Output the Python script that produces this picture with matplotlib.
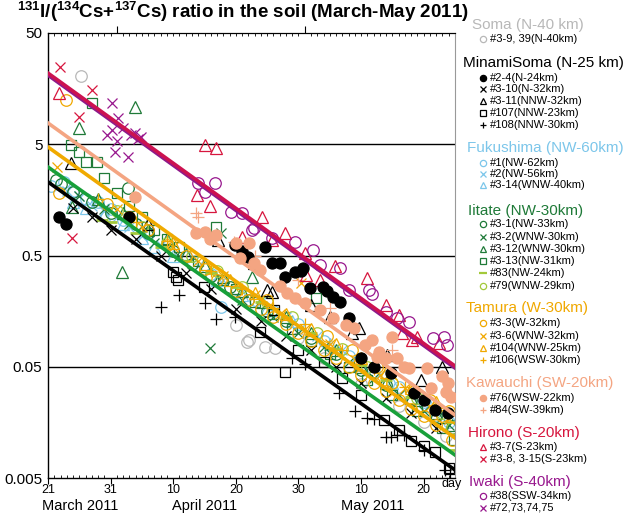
import matplotlib
matplotlib.use("Agg")
import matplotlib.pyplot as plt
from matplotlib.lines import Line2D
from matplotlib.ticker import NullLocator, FixedLocator
import numpy as np

plt.rcParams['font.family'] = ['Liberation Sans', 'DejaVu Sans']
plt.rcParams['mathtext.fontset'] = 'custom'
plt.rcParams['mathtext.rm'] = 'Liberation Sans'
plt.rcParams['mathtext.bf'] = 'Liberation Sans:bold'

# x values: days after 21 March 2011; y values: 131I/(134Cs+137Cs) ratio
# ---------------- Soma ----------------
soma_day = [5.2, 30.1, 31.8, 32.1, 34.7, 36.3, 40.0, 44.0, 50.0, 56.0, 60.0, 63.5]
soma_val = [20.5, 0.119, 0.083, 0.087, 0.076, 0.074, 0.090, 0.060, 0.035, 0.022, 0.016, 0.012]

# ---------------- MinamiSoma ----------------
ms24_day = [1.8, 2.9, 13.0, 29.8, 31.0, 31.9, 34.7, 35.8, 37.0, 37.9, 39.5, 40.4, 40.7, 41.8,
            43.9, 44.5, 45.5, 46.7, 48.0, 50.0, 52.0, 54.8, 58.5, 60.1, 61.8, 63.9]
ms24_val = [1.11, 0.96, 1.11, 0.62, 0.55, 0.48, 0.60, 0.428, 0.428, 0.32, 0.356, 0.363, 0.386, 0.255,
            0.261, 0.24, 0.212, 0.191, 0.137, 0.06, 0.05, 0.044, 0.029, 0.025, 0.0204, 0.0192]
ms310_day = [4, 7, 10, 14, 18, 22, 26, 30, 34, 38, 42, 46, 50, 54, 58, 62]
ms310_val = [1.35, 1.1, 0.85, 0.7, 0.5, 0.35, 0.25, 0.165, 0.13, 0.095, 0.07, 0.05, 0.036, 0.026, 0.019, 0.014]
ms311_day = [3.7, 16.0, 27.2, 32.9, 35.0, 35.8, 42.0, 45.0, 48.5, 49.6, 54.1, 59.6, 62.9]
ms311_val = [3.39, 0.95, 0.69, 0.43, 0.245, 0.235, 0.18, 0.14, 0.10, 0.111, 0.064, 0.038, 0.0497]
ms107_day = [19.9, 20.4, 20.7, 24.9, 33.9, 36.1, 37.8, 40.0, 44.0, 47.0, 50.0, 53.6, 56.1, 58.0, 60.1, 61.8, 64.0]
ms107_val = [0.356, 0.321, 0.301, 0.26, 0.1025, 0.162, 0.0449, 0.07, 0.055, 0.04, 0.028, 0.0166, 0.0135,
             0.0108, 0.0097, 0.0085, 0.0062]
ms108_day = [18.0, 20.9, 25.0, 26.9, 29.8, 39.0, 41.0, 46.4, 49.0, 50.9, 52.0, 54.0, 54.8, 55.8, 56.9, 60.0, 63.4, 64.2]
ms108_val = [0.172, 0.221, 0.187, 0.134, 0.14, 0.06, 0.0525, 0.029, 0.02, 0.0173, 0.017, 0.0117, 0.0117,
             0.0121, 0.0121, 0.009, 0.0059, 0.0054]

# ---------------- Fukushima ----------------
fk1_day = [0.5, 2.5, 4, 6, 8, 10, 12, 14, 16, 22, 26, 27.7, 30, 33, 36, 40, 44, 48, 52, 56, 60, 64]
fk1_val = [2.1, 2.3, 1.9, 1.6, 1.5, 1.3, 1.05, 0.95, 0.78, 0.48, 0.34, 0.172, 0.25, 0.20, 0.16, 0.12,
           0.085, 0.062, 0.045, 0.033, 0.024, 0.016]
fk2_day = [3, 5, 7, 9, 11, 13, 15, 18, 24, 28, 34, 38, 43, 47, 53, 58, 63]
fk2_val = [1.9, 1.7, 1.4, 1.25, 1.1, 0.9, 0.75, 0.62, 0.40, 0.30, 0.19, 0.14, 0.095, 0.07, 0.042, 0.028, 0.019]
fk314_day = [4, 6, 9, 12, 15, 17, 20, 27, 31, 35, 39, 45, 50, 55, 61]
fk314_val = [1.5, 1.35, 1.15, 0.95, 0.72, 0.6, 0.5, 0.30, 0.22, 0.17, 0.13, 0.08, 0.052, 0.036, 0.022]

# ---------------- Iitate ----------------
it31_day = [1.3, 12.8, 2, 4, 7, 10, 14, 16, 20, 23, 26, 29, 32, 35, 38, 42, 46, 50, 54, 58, 62, 64.5]
it31_val = [2.39, 2.02, 2.2, 1.85, 1.5, 1.2, 0.95, 0.8, 0.55, 0.42, 0.33, 0.26, 0.2, 0.16, 0.13, 0.09,
            0.065, 0.047, 0.034, 0.025, 0.018, 0.014]
it32_day = [25.8, 27.7, 5, 9, 13, 17, 21, 31, 36, 40, 44, 48, 52, 56, 60, 64]
it32_val = [0.074, 0.80, 1.7, 1.3, 0.95, 0.65, 0.5, 0.2, 0.14, 0.1, 0.075, 0.055, 0.04, 0.028, 0.02, 0.015]
it312_day = [13.9, 4.9, 3.9, 11.8, 8, 12, 16, 19, 22, 25, 28, 31, 32.6, 34, 38, 42, 46, 50, 54, 58, 62, 64.5]
it312_val = [10.8, 7.0, 1.36, 0.356, 1.6, 1.2, 0.85, 0.7, 0.52, 0.40, 0.32, 0.24, 0.32, 0.19, 0.14, 0.1,
             0.07, 0.05, 0.036, 0.026, 0.019, 0.015]
it313_day = [3.7, 4.9, 6.0, 7.8, 8.9, 7.0, 11.0, 26.9, 13, 15, 17, 19, 21, 24, 28, 30, 33, 36, 39, 42.8,
             42, 45, 48, 51, 55, 59, 63, 64.8]
it313_val = [4.92, 4.26, 3.46, 3.46, 2.49, 11.7, 1.82, 0.90, 1.4, 1.1, 0.85, 0.7, 0.6, 0.45, 0.3, 0.25, 0.19,
             0.15, 0.11, 0.207, 0.085, 0.065, 0.05, 0.038, 0.028, 0.02, 0.014, 0.011]
it83_day = [8.6, 10, 14, 18, 22, 26, 30, 34, 38, 42, 46, 50, 54, 58, 62, 64.5, 64.8]
it83_val = [1.04, 1.0, 0.8, 0.6, 0.45, 0.35, 0.26, 0.19, 0.14, 0.10, 0.072, 0.052, 0.038, 0.027, 0.02, 0.016, 0.009]
it79_day = [11, 15, 19, 23, 27, 31, 35, 39, 43, 47, 51, 55, 59, 63, 64.5]
it79_val = [1.25, 0.9, 0.65, 0.5, 0.36, 0.26, 0.19, 0.14, 0.1, 0.072, 0.05, 0.036, 0.026, 0.019, 0.014]

# ---------------- Tamura ----------------
tm33_day = [2.9, 1.8, 9.5, 13, 16, 19, 22, 25, 27, 30, 32, 34, 35, 36, 38, 40, 42, 44, 44.5, 46, 48, 48.5,
            50, 52, 52.5, 54, 55, 56, 58, 58.5, 60, 61, 62, 63, 64, 64.5]
tm33_val = [12.5, 1.82, 1.45, 1.10, 0.85, 0.62, 0.50, 0.38, 0.30, 0.24, 0.20, 0.165, 0.20, 0.14, 0.12, 0.10,
            0.085, 0.070, 0.095, 0.060, 0.050, 0.07, 0.042, 0.036, 0.05, 0.030, 0.036, 0.025, 0.021, 0.03,
            0.018, 0.025, 0.015, 0.018, 0.02, 0.011]
tm36_day = [1.5, 11, 15, 20, 24, 28, 33, 37, 40.4, 41, 45, 49, 53, 57, 61, 64]
tm36_val = [3.12, 1.3, 0.9, 0.6, 0.45, 0.33, 0.22, 0.15, 0.283, 0.11, 0.08, 0.058, 0.042, 0.032, 0.022, 0.017]
tm104_day = [20, 25, 29, 33, 38, 42, 46, 50, 54, 58, 62, 64.5]
tm104_val = [0.65, 0.42, 0.30, 0.23, 0.15, 0.11, 0.08, 0.060, 0.045, 0.032, 0.024, 0.018]
tm106_day = [8, 14, 19, 26, 31, 36, 41, 47, 52, 57, 62]
tm106_val = [1.6, 1.0, 0.68, 0.36, 0.25, 0.17, 0.12, 0.07, 0.048, 0.033, 0.022]

# ---------------- Kawauchi ----------------
kw76_day = [13.9, 23.7, 25.0, 25.8, 26.9, 30.1, 32.1, 30.6, 32.9, 33.9, 37.0, 38.2, 39.5, 41.0, 43.4, 45.5,
            47.6, 48.8, 50.7, 51.7, 54.9, 52.5, 54.0, 55.8, 57.7, 60.6, 62.9, 63.6, 64.3, 63.9, 61.2, 56.9, 52.8]
kw76_val = [1.68, 0.80, 0.81, 0.70, 0.76, 0.65, 0.65, 0.475, 0.428, 0.37, 0.266, 0.230, 0.207, 0.187, 0.162,
            0.137, 0.119, 0.111, 0.078, 0.087, 0.092, 0.061, 0.060, 0.060, 0.0488, 0.0488, 0.0413, 0.0297,
            0.0267, 0.0357, 0.0322, 0.0497, 0.068]
kw84_day = [24.0, 23.6, 29.7, 33.0, 40.0, 45.0, 55.0]
kw84_val = [1.11, 1.2, 0.66, 0.5, 0.30, 0.17, 0.07]

# ---------------- Hirono ----------------
hr37_day = [1.8, 25.0, 26.9, 23.8, 25.8, 31.0, 34.2, 35.8, 37.8, 41.0, 41.2, 43.4, 45.9, 50.9, 54.0, 56.1,
            59.0, 62.5, 56.5, 58.2]
hr37_val = [14.4, 4.92, 4.63, 1.75, 1.39, 0.73, 1.11, 0.69, 0.80, 0.53, 0.334, 0.301, 0.40, 0.314, 0.18,
            0.146, 0.092, 0.082, 0.10, 0.087]
hr38_day = [1.9, 7.0, 4.9, 3.9]
hr38_val = [24.7, 15.4, 8.8, 0.72]

# ---------------- Iwaki ----------------
iw38_day = [24.0, 25.0, 26.6, 29.3, 31.0, 32.6, 32.9, 35.8, 39.5, 42.3, 43.4, 46.7, 48.0, 51.2, 51.7, 54.0,
            55.8, 57.7, 61.5, 63.3, 63.7]
iw38_val = [2.24, 1.86, 2.24, 1.23, 1.20, 0.85, 0.88, 0.72, 0.66, 0.56, 0.41, 0.386, 0.245, 0.245, 0.225,
            0.155, 0.137, 0.126, 0.091, 0.092, 0.078]
iw72_day = [10.2, 11.2, 10.2, 12.0, 13.9, 14.4, 9.4, 11.0, 10.7, 12.8, 13.3, 14.9]
iw72_val = [11.7, 8.6, 6.7, 7.0, 6.3, 5.6, 6.0, 5.3, 4.26, 3.84, 6.0, 5.8]

# ---------------- fitted lines (value at start / end of the period) ----------------
fit_day = [0, 65]
fit_hirono = [21.8, 0.0508]
fit_iwaki = [20.9, 0.0487]
fit_kawauchi = [7.76, 0.0184]
fit_tamura = [4.72, 0.01145]
fit_iitate = [3.12, 0.00805]
fit_minamisoma = [2.29, 0.0059]

# ---------------- tick labels ----------------
ytick_vals = [0.005, 0.05, 0.5, 5, 50]
ytick_labels = ['0.005', '0.05', '0.5', '5', '50']
xtick_days = [0, 10, 20, 30, 40, 50, 60]
xtick_labels = ['21', '31', '10', '20', '30', '10', '20']
month_days = [11, 41]

# colours
c_gray = '#b8b8b8'
c_black = '#000000'
c_blue = '#7cc6ea'
c_green = '#1f7a38'
c_lime = '#a3c93a'
c_orange = '#f0a800'
c_salmon = '#f4a582'
c_red = '#d7163e'
c_purple = '#98188e'

W, H = 628, 516
fig = plt.figure(figsize=(W / 100, H / 100), dpi=100)
ax = fig.add_axes([48 / W, 1 - 478 / H, (455 - 48) / W, (478 - 33) / H])

MS = 8.3
MEW = 0.9

def pts(d, v, marker, color, filled=False, ms=MS, mew=MEW, z=2):
    ax.plot(d, v, linestyle='none', marker=marker, ms=ms, mew=mew,
            mfc=color if filled else 'none', mec=color, zorder=z)

# draw series
pts(soma_day, soma_val, 'o', c_gray)
pts(fk1_day, fk1_val, 'o', c_blue)
pts(fk2_day, fk2_val, 'x', c_blue, ms=7)
pts(fk314_day, fk314_val, '^', c_blue)
pts(it31_day, it31_val, 'o', c_green)
pts(it32_day, it32_val, 'x', c_green, ms=7)
pts(it312_day, it312_val, '^', c_green)
pts(it313_day, it313_val, 's', c_green, ms=7.5)
pts(it83_day, it83_val, '_', c_lime, ms=8.5, mew=2)
pts(it79_day, it79_val, 'o', c_lime)
pts(ms310_day, ms310_val, 'x', c_black, ms=7)
pts(ms311_day, ms311_val, '^', c_black)
pts(ms107_day, ms107_val, 's', c_black, ms=7.5)
pts(ms108_day, ms108_val, '+', c_black, ms=9)
pts(tm33_day, tm33_val, 'o', c_orange)
pts(tm36_day, tm36_val, 'x', c_orange, ms=7)
pts(tm104_day, tm104_val, '^', c_orange)
pts(tm106_day, tm106_val, '+', c_orange, ms=9)
pts(ms24_day, ms24_val, 'o', c_black, filled=True, ms=8, z=3)
pts(kw76_day, kw76_val, 'o', c_salmon, filled=True, ms=8, z=3)
pts(kw84_day, kw84_val, '+', c_salmon, ms=9)
pts(hr37_day, hr37_val, '^', c_red)
pts(hr38_day, hr38_val, 'x', c_red, ms=7.5)
pts(iw38_day, iw38_val, 'o', c_purple)
pts(iw72_day, iw72_val, 'x', c_purple, ms=7.5)

# fitted lines
LW = 2.6
ax.plot(fit_day, fit_minamisoma, color='#000000', lw=LW, zorder=5)
ax.plot(fit_day, fit_iitate, color='#18a03a', lw=LW, zorder=5)
ax.plot(fit_day, fit_tamura, color='#f0aa00', lw=LW, zorder=5)
ax.plot(fit_day, fit_kawauchi, color='#f4a582', lw=LW, zorder=5)
ax.plot(fit_day, fit_iwaki, color='#8e1a8a', lw=LW, zorder=5)
ax.plot(fit_day, fit_hirono, color='#cc1250', lw=LW, zorder=5)

# axes styling
ax.set_yscale('log')
ax.set_ylim(0.005, 50)
ax.set_xlim(0, 65)
for yv in [5, 0.5, 0.05]:
    ax.axhline(yv, color='black', lw=1.0, zorder=1)
ax.set_yticks(ytick_vals)
ax.set_yticklabels(ytick_labels, fontsize=11)
ax.yaxis.set_minor_locator(NullLocator())
ax.tick_params(axis='y', length=0, pad=4)

ax.set_xticks(xtick_days)
ax.set_xticklabels(xtick_labels, fontsize=9)
ax.xaxis.set_minor_locator(FixedLocator(np.arange(0, 66, 1)))
ax.tick_params(axis='x', which='major', direction='out', length=4, width=0.8, pad=0.5)
ax.tick_params(axis='x', which='minor', direction='in', length=2.5, width=0.6)

top = ax.secondary_xaxis('top')
top.set_xticks(month_days)
top.set_xticklabels([])
top.xaxis.set_minor_locator(FixedLocator(np.arange(0, 66, 1)))
top.tick_params(which='major', direction='out', length=5, width=0.8)
top.tick_params(which='minor', direction='in', length=2.5, width=0.6)
top.spines['top'].set_linewidth(0.8)

ax.spines['right'].set_color('#999999')
ax.spines['left'].set_linewidth(1.0)
ax.spines['bottom'].set_linewidth(1.0)
ax.spines['top'].set_linewidth(0.8)

def px(x, y):
    return x / W, 1 - y / H

fig.text(*px(452, 484), 'day', fontsize=9, ha='center', va='center')
fig.text(*px(80, 506), 'March 2011', fontsize=10.5, ha='center', va='center')
fig.text(*px(205, 506), 'April 2011', fontsize=10.5, ha='center', va='center')
fig.text(*px(373, 506), 'May 2011', fontsize=10.5, ha='center', va='center')

# title
title_txt = (r'$^{\mathbf{131}}$I/($^{\mathbf{134}}$Cs+$^{\mathbf{137}}$Cs) '
             'ratio in the soil (March-May 2011)')
fig.text(*px(17, 12), title_txt, fontsize=13.5, fontweight='bold', ha='left', va='center')

# legend (drawn as figure text)
legend_groups = [
    ('Soma (N-40 km)', c_gray, 472, 25, [('o', c_gray, False, '#3-9, 39(N-40km)', 39)]),
    ('MinamiSoma (N-25 km)', c_black, 463, 63, [
        ('o', c_black, True, '#2-4(N-24km)', 78),
        ('x', c_black, False, '#3-10(N-32km)', 89),
        ('^', c_black, False, '#3-11(NNW-32km)', 101),
        ('s', c_black, False, '#107(NNW-23km)', 113),
        ('+', c_black, False, '#108(NNW-30km)', 125)]),
    ('Fukushima (NW-60km)', c_blue, 467, 148, [
        ('o', c_blue, False, '#1(NW-62km)', 163),
        ('x', c_blue, False, '#2(NW-56km)', 174),
        ('^', c_blue, False, '#3-14(WNW-40km)', 185)]),
    ('Iitate (NW-30km)', c_green, 468, 211, [
        ('o', c_green, False, '#3-1(NW-33km)', 224),
        ('x', c_green, False, '#3-2(WNW-30km)', 237),
        ('^', c_green, False, '#3-12(WNW-30km)', 249),
        ('s', c_green, False, '#3-13(NW-31km)', 261),
        ('_', c_lime, False, '#83(NW-24km)', 273),
        ('o', c_lime, False, '#79(WNW-29km)', 286)]),
    ('Tamura (W-30km)', c_orange, 466, 308, [
        ('o', c_orange, False, '#3-3(W-32km)', 323),
        ('x', c_orange, False, '#3-6(WNW-32km)', 336),
        ('^', c_orange, False, '#104(WNW-25km)', 348),
        ('+', c_orange, False, '#106(WSW-30km)', 360)]),
    ('Kawauchi (SW-20km)', c_salmon, 466, 383, [
        ('o', c_salmon, True, '#76(WSW-22km)', 398),
        ('+', c_salmon, False, '#84(SW-39km)', 410)]),
    ('Hirono (S-20km)', c_red, 468, 433, [
        ('^', c_red, False, '#3-7(S-23km)', 447),
        ('x', c_red, False, '#3-8, 3-15(S-23km)', 459)]),
    ('Iwaki (S-40km)', c_purple, 469, 482, [
        ('o', c_purple, False, '#38(SSW-34km)', 496),
        ('x', c_purple, False, '#72,73,74,75', 508)]),
]
for title, tcol, tx, ty, entries in legend_groups:
    fig.text(*px(tx, ty), title, color=tcol, fontsize=11, ha='left', va='center')
    for mk, mc, filled, label, ey in entries:
        mx, my = px(483, ey)
        fig.add_artist(Line2D([mx], [my], transform=fig.transFigure, linestyle='none',
                              marker=mk, ms=4.5 if mk != '_' else 6,
                              mew=0.9 if mk != '_' else 1.6,
                              mfc=mc if filled else 'none', mec=mc))
        fig.text(*px(490, ey), label, fontsize=8, color='black', ha='left', va='center')

fig.savefig('out.png', dpi=100)
